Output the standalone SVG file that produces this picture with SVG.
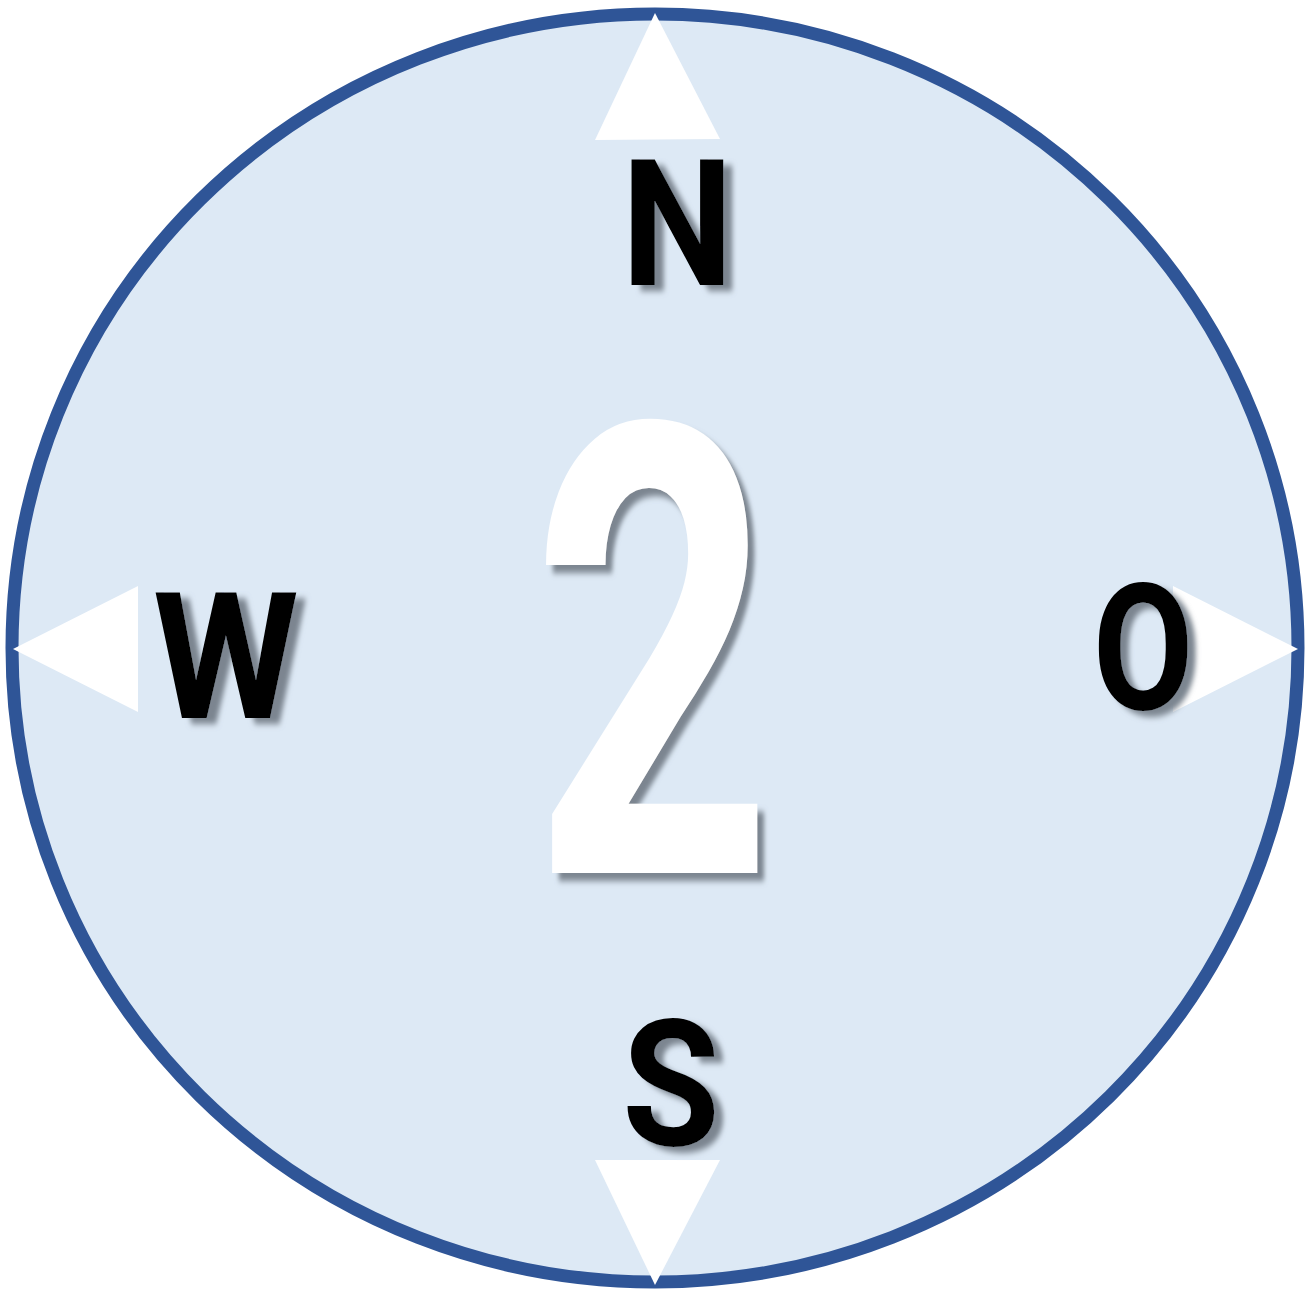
<svg xmlns="http://www.w3.org/2000/svg" width="1305" height="1294" viewBox="0 0 1305 1294">
<style>
.dir{font-family:Roboto,"Liberation Sans",sans-serif;font-weight:700;font-size:176px;fill:#000;text-anchor:middle}
.big{font-family:Roboto,"Liberation Sans",sans-serif;font-weight:700;font-size:630px;fill:#fff;text-anchor:middle}
.tri{fill:#fff}
</style>
<defs>
<filter id="sh" x="-30%" y="-30%" width="160%" height="160%">
<feDropShadow dx="10" dy="6" stdDeviation="3" flood-color="#7b8590" flood-opacity="1"/>
</filter>
<filter id="sh2" x="-30%" y="-30%" width="160%" height="160%">
<feDropShadow dx="10" dy="8" stdDeviation="3" flood-color="#7b8590" flood-opacity="1"/>
</filter>
</defs>
<g id="dial">
<ellipse cx="655" cy="648" rx="643" ry="634" fill="#dde9f5" stroke="#2f5597" stroke-width="13"/>
</g>
<g id="arrows">
<polygon class="tri" points="655,13 720,139 595,140"/>
<polygon class="tri" points="13,649 138,586 138,712"/>
<polygon class="tri" points="1298,649 1173,586 1173,712"/>
<polygon class="tri" points="595,1160 720,1160 655,1285"/>
</g>
<g id="center"><text class="big" filter="url(#sh2)" transform="translate(652.5,873) scale(0.67,1)">2</text></g>
<g id="north"><text class="dir" filter="url(#sh)" transform="translate(677.5,285) scale(0.9,1)">N</text></g>
<g id="west"><text class="dir" filter="url(#sh)" transform="translate(226,718) scale(0.95,1)">W</text></g>
<g id="east"><text class="dir" filter="url(#sh)" transform="translate(1143,709) scale(0.83,1)">O</text></g>
<g id="south"><text class="dir" filter="url(#sh)" transform="translate(671,1145) scale(0.9,1)">S</text></g>
</svg>
